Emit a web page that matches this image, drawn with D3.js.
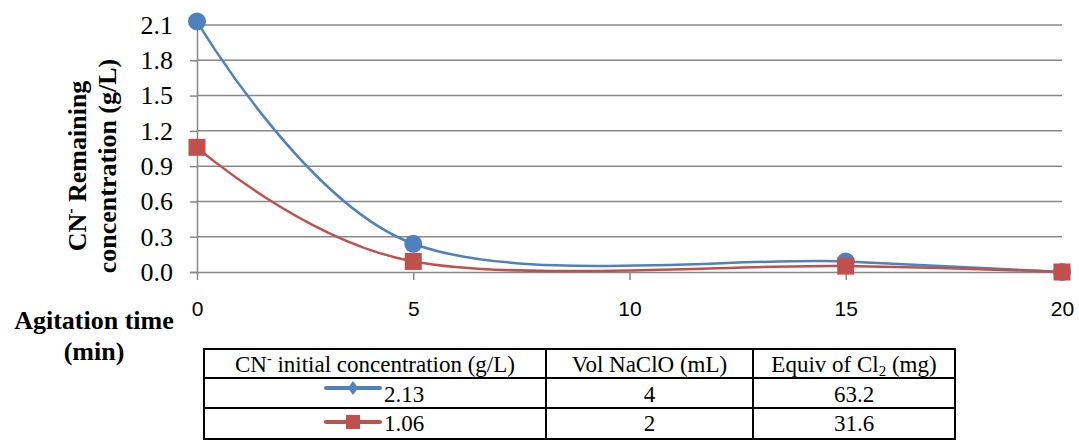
<!DOCTYPE html>
<html>
<head>
<meta charset="utf-8">
<script src="https://cdn.jsdelivr.net/npm/d3@7"></script>
<style>
  html, body { margin: 0; padding: 0; background: #fff; }
  svg { display: block; }
</style>
</head>
<body>
<svg id="chart" width="1079" height="441"></svg>
<script>
// Agitation time (min)
const times = [0, 5, 15, 20];
// CN- remaining concentration (g/L) for each initial concentration
const seriesHigh = [2.13, 0.24, 0.09, 0.0];
const seriesLow = [1.06, 0.09, 0.05, 0.0];
const yTicks = [0, 0.3, 0.6, 0.9, 1.2, 1.5, 1.8, 2.1];
const xTicks = [0, 5, 10, 15, 20];
// Data table beneath the chart
const initialConc = ["2.13", "1.06"];
const volNaClO = ["4", "2"];
const equivCl2 = ["63.2", "31.6"];

const BLUE = "#4F81BD", RED = "#C0504D", GRID = "#888888";
const SERIF = "'Liberation Serif', 'Times New Roman', serif";
const SANS = "'Liberation Sans', Arial, sans-serif";

const svg = d3.select("#chart");

const x = d3.scaleLinear().domain([0, 20]).range([197, 1062]);
const y = d3.scaleLinear().domain([0, 2.1]).range([272, 25]);

// horizontal gridlines
svg.append("g").selectAll("line").data(yTicks.filter(d => d > 0)).join("line")
  .attr("x1", x(0)).attr("x2", x(20))
  .attr("y1", d => y(d)).attr("y2", d => y(d))
  .attr("stroke", GRID).attr("stroke-width", 1.5);

// y axis
const yAxis = svg.append("g").attr("transform", `translate(${x(0)},0)`)
  .call(d3.axisLeft(y).tickValues(yTicks).tickFormat(d3.format(".1f")).tickSize(7).tickPadding(17));
yAxis.select(".domain").attr("stroke", GRID).attr("stroke-width", 1.5);
yAxis.selectAll(".tick line").attr("stroke", GRID).attr("stroke-width", 1.5);
yAxis.selectAll("text").attr("font-family", SERIF).attr("font-size", 26).attr("fill", "#000");

// x axis on the zero line
const xAxis = svg.append("g").attr("transform", `translate(0,${y(0)})`)
  .call(d3.axisBottom(x).tickValues(xTicks).tickSize(8).tickPadding(21).tickSizeOuter(0));
xAxis.select(".domain").attr("stroke", GRID).attr("stroke-width", 1.5);
xAxis.selectAll(".tick line").attr("stroke", GRID).attr("stroke-width", 1.5);
xAxis.selectAll("text").attr("font-family", SANS).attr("font-size", 21).attr("fill", "#000");

// smoothed series lines
const line = d3.line().x((d, i) => x(times[i])).y(d => y(d)).curve(d3.curveCatmullRom.alpha(0));

svg.append("path").datum(seriesHigh).attr("d", line)
  .attr("fill", "none").attr("stroke", BLUE).attr("stroke-width", 2.5);
svg.append("path").datum(seriesLow).attr("d", line)
  .attr("fill", "none").attr("stroke", RED).attr("stroke-width", 2.5);

svg.append("g").selectAll("circle").data(seriesHigh).join("circle")
  .attr("cx", (d, i) => x(times[i])).attr("cy", d => y(d)).attr("r", 9)
  .attr("fill", BLUE);
svg.append("g").selectAll("rect").data(seriesLow).join("rect")
  .attr("x", (d, i) => x(times[i]) - 8.5).attr("y", d => y(d) - 8.5)
  .attr("width", 17).attr("height", 17).attr("fill", RED);

// y axis title
const yTitle = svg.append("text")
  .attr("transform", "translate(0,166) rotate(-90)")
  .attr("font-family", SERIF).attr("font-weight", "bold").attr("font-size", 26)
  .attr("text-anchor", "middle").attr("fill", "#000");
const t1 = yTitle.append("tspan").attr("x", 0).attr("y", 86);
t1.append("tspan").text("CN");
t1.append("tspan").attr("font-size", 16).attr("dy", -10).text("-");
t1.append("tspan").attr("dy", 10).text(" Remaining");
yTitle.append("tspan").attr("x", 0).attr("y", 116).text("concentration (g/L)");

// x axis title
const xTitle = svg.append("text")
  .attr("font-family", SERIF).attr("font-weight", "bold").attr("font-size", 26)
  .attr("text-anchor", "middle").attr("fill", "#000");
xTitle.append("tspan").attr("x", 94).attr("y", 329).text("Agitation time");
xTitle.append("tspan").attr("x", 94).attr("y", 360).text("(min)");

// data table
const cols = [204, 546, 753, 955];
const rows = [349, 378, 408, 439];
const table = svg.append("g");
table.append("rect").attr("x", cols[0]).attr("y", rows[0])
  .attr("width", cols[3] - cols[0]).attr("height", rows[3] - rows[0])
  .attr("fill", "none").attr("stroke", "#000").attr("stroke-width", 2);
table.selectAll("line.v").data(cols.slice(1, 3)).join("line")
  .attr("x1", d => d).attr("x2", d => d).attr("y1", rows[0]).attr("y2", rows[3])
  .attr("stroke", "#000").attr("stroke-width", 2);
table.selectAll("line.h").data(rows.slice(1, 3)).join("line")
  .attr("x1", cols[0]).attr("x2", cols[3]).attr("y1", d => d).attr("y2", d => d)
  .attr("stroke", "#000").attr("stroke-width", 2);

const cell = (cx, cy, anchor) => table.append("text")
  .attr("x", cx).attr("y", cy).attr("text-anchor", anchor || "middle")
  .attr("font-family", SERIF).attr("font-size", 23).attr("fill", "#000");

const h1 = cell((cols[0] + cols[1]) / 2, 372);
h1.append("tspan").text("CN");
h1.append("tspan").attr("font-size", 14).attr("dy", -9).text("-");
h1.append("tspan").attr("dy", 9).text(" initial concentration (g/L)");
cell((cols[1] + cols[2]) / 2, 372).text("Vol NaClO (mL)");
const h3 = cell((cols[2] + cols[3]) / 2, 372);
h3.append("tspan").text("Equiv of Cl");
h3.append("tspan").attr("font-size", 15).attr("dy", 4).text("2");
h3.append("tspan").attr("dy", -4).text(" (mg)");

const rowBase = [402, 431];
const rowMid = [388, 422];
[BLUE, RED].forEach((c, i) => {
  table.append("line").attr("x1", 326).attr("x2", 380)
    .attr("y1", rowMid[i]).attr("y2", rowMid[i])
    .attr("stroke", c).attr("stroke-width", 4).attr("stroke-linecap", "round");
  cell(384, rowBase[i], "start").text(initialConc[i]);
  cell((cols[1] + cols[2]) / 2, rowBase[i]).text(volNaClO[i]);
  cell((cols[2] + cols[3]) / 2, rowBase[i]).text(equivCl2[i]);
});
table.append("path")
  .attr("d", `M353,${rowMid[0] - 7}L358,${rowMid[0]}L353,${rowMid[0] + 7}L348,${rowMid[0]}Z`)
  .attr("fill", BLUE);
table.append("rect").attr("x", 346).attr("y", rowMid[1] - 7).attr("width", 14).attr("height", 14)
  .attr("fill", RED);
</script>
</body>
</html>
